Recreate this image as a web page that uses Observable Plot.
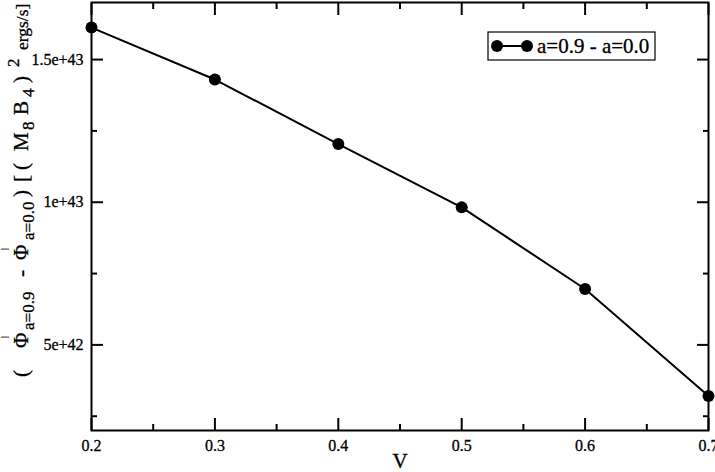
<!DOCTYPE html>
<html>
<head>
<meta charset="utf-8">
<script src="https://cdn.jsdelivr.net/npm/d3@7"></script>
<script src="https://cdn.jsdelivr.net/npm/@observablehq/plot@0.6"></script>
<style>
  html, body { margin: 0; padding: 0; background: white; }
  #chart svg { display: block; }
  #chart svg text { font-family: "Liberation Serif", "DejaVu Serif", serif; stroke: black; stroke-width: 0.3px; }
</style>
</head>
<body>
<div id="chart"></div>
<script>
const V = [0.2, 0.3, 0.4, 0.5, 0.6, 0.7];
const dPhi = [1.612e43, 1.430e43, 1.204e43, 0.982e43, 0.696e43, 0.321e43];
const legendLabel = "a=0.9 - a=0.0";
const xMajor = [0.2, 0.3, 0.4, 0.5, 0.6, 0.7];
const xMinor = [0.25, 0.35, 0.45, 0.55, 0.65];
const yMajor = [5e42, 1e43, 1.5e43];
const yMinor = [2.5e42, 7.5e42, 1.25e43];

const data = V.map((v, i) => ({v, p: dPhi[i]}));
const font = "Liberation Serif, DejaVu Serif, serif";
const empty = () => "";

const chart = Plot.plot({
  width: 715, height: 472,
  marginLeft: 91, marginRight: 7, marginTop: 2, marginBottom: 42,
  x: {domain: [0.2, 0.7]},
  y: {domain: [2e42, 1.7e43]},
  style: {fontFamily: font, fontSize: "16px", color: "black", background: "white"},
  marks: [
    Plot.axisX(xMajor, {anchor: "bottom", tickSize: 0, tickPadding: 9, tickFormat: d => d.toFixed(1), label: null, fontSize: 16}),
    Plot.axisY(yMajor, {anchor: "left", tickSize: 0, tickPadding: 8, tickFormat: d => d.toExponential(), label: null, fontSize: 16}),
    Plot.axisX(xMajor, {anchor: "bottom", tickSize: -12, tickFormat: empty, label: null, strokeWidth: 2}),
    Plot.axisX(xMinor, {anchor: "bottom", tickSize: -6, tickFormat: empty, label: null, strokeWidth: 2}),
    Plot.axisX(xMajor, {anchor: "top", tickSize: -12, tickFormat: empty, label: null, strokeWidth: 2}),
    Plot.axisX(xMinor, {anchor: "top", tickSize: -6, tickFormat: empty, label: null, strokeWidth: 2}),
    Plot.axisY(yMajor, {anchor: "left", tickSize: -12, tickFormat: empty, label: null, strokeWidth: 2}),
    Plot.axisY(yMinor, {anchor: "left", tickSize: -6, tickFormat: empty, label: null, strokeWidth: 2}),
    Plot.axisY(yMajor, {anchor: "right", tickSize: -12, tickFormat: empty, label: null, strokeWidth: 2}),
    Plot.axisY(yMinor, {anchor: "right", tickSize: -6, tickFormat: empty, label: null, strokeWidth: 2}),
    Plot.frame({stroke: "black", strokeWidth: 2}),
    Plot.line(data, {x: "v", y: "p", stroke: "black", strokeWidth: 2}),
    Plot.dot(data, {x: "v", y: "p", r: 6, fill: "black", stroke: "none"}),
    Plot.text(["V"], {frameAnchor: "bottom", dy: 31, fontSize: 21, lineAnchor: "middle", fill: "black"})
  ]
});
document.getElementById("chart").appendChild(chart);

const svg = d3.select(chart);

// y-axis label with sub/superscripts (u = offset along the rotated text, s = baseline shift)
const segs = [
  {t: "(", u: 0, s: 0, f: 21},
  {t: "Φ", u: 29, s: 0, f: 21},
  {t: "|", u: 39, s: -21, f: 9},
  {t: "a=0.9", u: 47, s: 6, f: 17},
  {t: "-", u: 100, s: 0, f: 21},
  {t: "Φ", u: 117, s: 0, f: 21},
  {t: "|", u: 127, s: -21, f: 9},
  {t: "a=0.0", u: 137, s: 6, f: 17},
  {t: ")", u: 180, s: 0, f: 21},
  {t: "[", u: 195, s: 0, f: 21},
  {t: "(", u: 207, s: 0, f: 21},
  {t: "M", u: 226, s: 0, f: 21},
  {t: "8", u: 247, s: 6, f: 17},
  {t: "B", u: 262, s: 0, f: 21},
  {t: "4", u: 280, s: 6, f: 17},
  {t: ")", u: 294, s: 0, f: 21},
  {t: "2", u: 310, s: -9, f: 17},
  {t: "ergs/s]", u: 327, s: 0, f: 17.5}
];
const yl = svg.append("text")
  .attr("transform", "translate(28,377) rotate(-90)")
  .attr("text-anchor", "start")
  .attr("fill", "black");
segs.forEach(sg => {
  yl.append("tspan").attr("x", sg.u).attr("y", sg.s).attr("font-size", sg.f).text(sg.t);
});

// legend
const lg = svg.append("g");
lg.append("rect").attr("x", 488).attr("y", 32).attr("width", 167).attr("height", 28)
  .attr("fill", "white").attr("stroke", "black").attr("stroke-width", 1.2);
lg.append("line").attr("x1", 497).attr("x2", 527).attr("y1", 46).attr("y2", 46)
  .attr("stroke", "black").attr("stroke-width", 2);
[497, 527].forEach(cx => lg.append("circle").attr("cx", cx).attr("cy", 46).attr("r", 6).attr("fill", "black"));
lg.append("text").attr("x", 537).attr("y", 53).attr("text-anchor", "start").attr("font-size", 21)
  .attr("fill", "black").text(legendLabel);
</script>
</body>
</html>
